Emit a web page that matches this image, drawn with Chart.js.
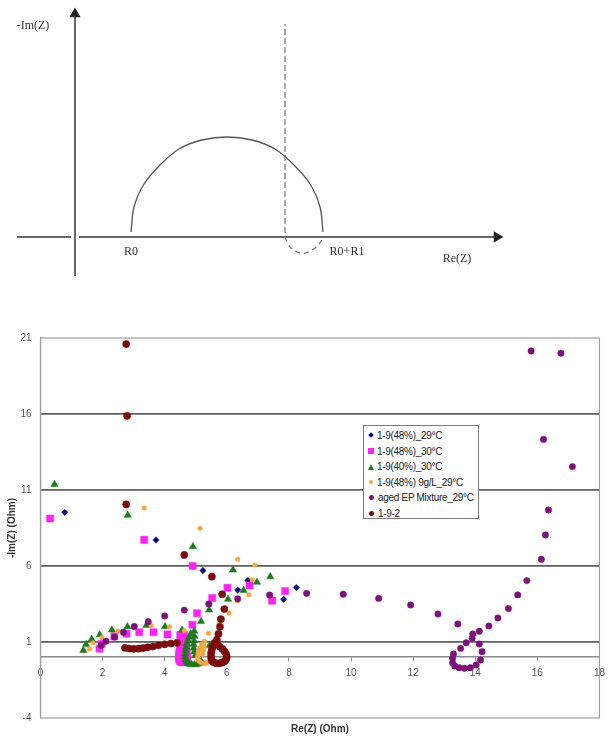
<!DOCTYPE html>
<html>
<head>
<meta charset="utf-8">
<script src="https://cdn.jsdelivr.net/npm/chart.js@4.4.1/dist/chart.umd.min.js"></script>
<style>
  body { margin: 0; background: #fff; width: 611px; height: 745px; overflow: hidden; position: relative; font-family: "Liberation Sans", Arial, sans-serif; }
  #sketchBox { position: absolute; left: 0; top: 0; width: 611px; height: 300px; }
  #nyquistBox { position: absolute; left: 0; top: 300px; width: 611px; height: 445px; }
  #legend { position: absolute; left: 363px; top: 425px; width: 116px; height: 94px; border: 1px solid #7a7a7a; background: #fff; box-sizing: border-box; padding-top: 2px; }
  .row { height: 15.6px; line-height: 15.6px; font-size: 10px; color: #222; white-space: nowrap; padding-left: 4px; letter-spacing: -0.3px; }
  .mk { display: inline-block; vertical-align: middle; margin-right: 3px; margin-top: -2px; }
</style>
</head>
<body>
<div id="sketchBox"><canvas id="sketch"></canvas></div>
<div id="nyquistBox"><canvas id="nyquist"></canvas></div>
<div id="legend"></div>
<script>
// ---- schematic (arbitrary units, origin where the axes cross) ----
const arcRe = [5.6, 5.9, 6.9, 8.5, 10.4, 12.7, 15.2, 17.7, 20.0, 21.9, 23.5, 24.5, 24.8];
const arcIm = [0.5, 3.0, 5.3, 7.2, 8.8, 9.7, 10.0, 9.7, 8.8, 7.2, 5.3, 3.0, 0.5];
const inductRe = [21.0, 21.5, 22.7, 24.0, 24.8];
const inductIm = [0.0, -1.0, -1.65, -1.1, -0.2];
const cutRe = [21.0, 21.0];
const cutIm = [0.4, 21.3];
const imAxisRe = [0, 0];
const imAxisIm = [-3.9, 22.3];
const reAxisLeftRe = [-5.8, -0.4];
const reAxisRightRe = [0.4, 42.2];
const sketchLabels = ['-Im(Z)', 'R0', 'R0+R1', 'Re(Z)'];
const sketchLabelRe = [-4.2, 5.6, 27.2, 38.2];
const sketchLabelIm = [21.1, -1.45, -1.45, -2.2];

// ---- impedance data ----
const xTicks = [0, 2, 4, 6, 8, 10, 12, 14, 16, 18];
const yTicks = [-4, 1, 6, 11, 16, 21];
const seriesNames = ['1-9(48%)_29°C', '1-9(48%)_30°C', '1-9(40%)_30°C', '1-9(48%) 9g/L_29°C', 'aged EP Mixture_29°C', '1-9-2'];

const s1x = [0.78, 3.72, 5.23, 6.68, 6.35, 7.83, 8.24];
const s1y = [9.53, 7.71, 5.70, 5.05, 4.42, 3.81, 4.58];

const s2x = [0.31, 3.34, 4.90, 6.73, 7.88, 7.46, 6.02, 5.53, 5.04, 4.89,
             1.90, 1.97, 2.38, 2.77, 3.18, 3.64, 4.09, 4.50,
             4.62, 4.58, 4.54, 4.51, 4.49, 4.47, 4.46, 4.46, 4.47, 4.49, 4.53, 4.58, 4.63, 4.68,
             4.71, 4.72, 4.71, 4.69, 4.68, 4.69];
const s2y = [9.12, 7.72, 6.00, 4.72, 4.36, 3.72, 4.57, 3.90, 2.89, 2.14,
             0.56, 0.89, 1.37, 1.54, 1.64, 1.64, 1.50, 1.45,
             1.45, 1.22, 1.00, 0.78, 0.56, 0.34, 0.14, -0.04, -0.17, -0.26, -0.31, -0.33, -0.32, -0.26,
             -0.14, 0.02, 0.20, 0.40, 0.62, 0.86];

const s3x = [0.45, 2.81, 4.91, 6.20, 7.40, 6.97, 6.54, 6.04, 5.43, 5.17, 4.95,
             1.38, 1.47, 1.65, 1.91, 2.30, 2.80, 3.41, 4.01, 4.56, 5.44,
             4.84, 4.79, 4.75, 4.71, 4.69, 4.67, 4.66, 4.66, 4.67, 4.70, 4.74, 4.80, 4.87, 4.95, 5.03, 5.10, 5.15, 5.18,
             4.98, 4.95, 4.93, 4.93, 4.94, 4.96];
const s3y = [11.37, 9.34, 7.28, 5.74, 5.30, 4.93, 4.40, 3.82, 3.11, 2.35, 1.72,
             0.45, 0.84, 1.18, 1.48, 1.79, 2.01, 2.10, 2.01, 1.79, 0.76,
             1.55, 1.32, 1.10, 0.88, 0.66, 0.44, 0.22, 0.02, -0.16, -0.30, -0.40, -0.45, -0.48, -0.49, -0.47, -0.43, -0.37, -0.28,
             0.10, 0.35, 0.60, 0.85, 1.10, 1.38];

const s4x = [3.34, 5.14, 6.35, 6.90, 6.82, 6.71, 6.35, 6.07, 5.75, 5.41,
             1.58, 1.69, 1.97, 2.50, 3.00, 3.56, 4.15, 4.63,
             5.28, 5.20, 5.14, 5.10, 5.07, 5.06, 5.07, 5.11, 5.17, 5.25, 5.33, 5.38, 5.22, 5.24, 5.28];
const s4y = [9.82, 8.48, 6.44, 6.07, 5.10, 4.11, 3.70, 2.91, 2.20, 1.57,
             0.55, 0.95, 1.30, 1.72, 1.95, 2.07, 2.00, 1.75,
             1.05, 0.85, 0.65, 0.45, 0.25, 0.05, -0.13, -0.27, -0.37, -0.41, -0.40, -0.33, 0.20, 0.45, 0.70];

const s5x = [15.80, 16.76, 16.20, 17.13, 16.36, 16.26, 16.13, 15.66, 15.37, 15.07, 14.73, 14.44, 14.13, 13.92,
             13.90, 13.71, 13.53, 13.30, 13.27, 13.27, 13.34, 13.48, 13.65, 13.84, 14.03, 14.17, 14.22, 14.13,
             13.44, 12.80, 11.92, 10.89, 9.75, 8.57, 7.38, 6.35, 5.42, 4.63, 4.00, 3.47, 3.02, 2.67, 2.38, 2.11, 1.95];
const s5y = [20.14, 20.00, 14.33, 12.54, 9.68, 8.04, 6.44, 5.04, 4.10, 3.20, 2.58, 2.05, 1.71, 1.53,
             1.24, 0.95, 0.58, 0.21, -0.07, -0.36, -0.58, -0.69, -0.73, -0.69, -0.51, -0.18, 0.36, 0.87,
             2.18, 2.84, 3.43, 3.87, 4.14, 4.20, 4.09, 3.84, 3.50, 3.10, 2.71, 2.34, 2.02, 1.64, 1.32, 1.05, 0.77];

const s6x = [2.76, 2.79, 2.76, 4.63, 5.52, 5.85, 5.92, 5.81, 5.78, 5.73, 5.68,
             2.72, 2.85, 3.00, 3.15, 3.30, 3.45, 3.62, 3.80, 4.00, 4.20, 4.40,
             5.60, 5.55, 5.52, 5.50, 5.49, 5.50, 5.52, 5.57, 5.65, 5.75, 5.85, 5.93, 5.98, 6.00, 5.98, 5.93, 5.86, 5.78, 5.70];
const s6y = [20.60, 15.88, 10.05, 6.73, 5.30, 4.14, 3.17, 2.50, 2.00, 1.53, 1.15,
             0.62, 0.57, 0.55, 0.56, 0.60, 0.65, 0.70, 0.78, 0.85, 0.90, 0.95,
             0.92, 0.72, 0.52, 0.32, 0.12, -0.08, -0.24, -0.34, -0.39, -0.40, -0.36, -0.27, -0.14, 0.02, 0.20, 0.38, 0.54, 0.68, 0.82];

// ---- styles ----
const seriesColors = ['#0a0a78', '#ff22f0', '#1d7a1d', '#f4a640', '#7a127a', '#7c0c0c'];
const seriesShapes = ['rectRot', 'rect', 'triangle', 'circle', 'circle', 'circle'];
const seriesRadius = [3.2, 5, 4.2, 2.3, 3.2, 3.6];

function zip(xs, ys) {
    return xs.map((x, i) => ({ x: x, y: ys[i] }));
}

// ---------- schematic chart ----------
const sketchLabelPlugin = {
    id: 'sketchLabels',
    afterDatasetsDraw(chart) {
        const ctx = chart.ctx;
        ctx.save();
        ctx.fillStyle = '#333';
        ctx.font = '12px "Liberation Serif", "DejaVu Serif", serif';
        ctx.textAlign = 'center';
        ctx.textBaseline = 'middle';
        sketchLabels.forEach((txt, i) => {
            ctx.fillText(txt, chart.scales.x.getPixelForValue(sketchLabelRe[i]), chart.scales.y.getPixelForValue(sketchLabelIm[i]));
        });
        ctx.restore();
    }
};

function sketchLine(xs, ys, opts) {
    return Object.assign({
        data: zip(xs, ys),
        showLine: true,
        borderColor: '#666',
        borderWidth: 2,
        pointRadius: 0,
        fill: false
    }, opts);
}

new Chart(document.getElementById('sketch'), {
    type: 'scatter',
    data: {
        datasets: [
            sketchLine(arcRe, arcIm, { borderColor: '#555', borderWidth: 1.3, tension: 0.33 }),
            sketchLine(inductRe, inductIm, { borderColor: '#777', borderWidth: 1.3, tension: 0.33, borderDash: [5, 4] }),
            sketchLine(cutRe, cutIm, { borderColor: '#888', borderWidth: 1.4, borderDash: [6, 3] }),
            sketchLine(imAxisRe, imAxisIm, { pointRadius: [0, 4.5], pointStyle: 'triangle', pointBackgroundColor: '#222', pointBorderColor: '#222' }),
            sketchLine(reAxisLeftRe, [0, 0], {}),
            sketchLine(reAxisRightRe, [0, 0], { pointRadius: [0, 4.5], pointStyle: 'triangle', pointRotation: 90, pointBackgroundColor: '#222', pointBorderColor: '#222' })
        ]
    },
    options: {
        responsive: true,
        maintainAspectRatio: false,
        animation: false,
        layout: { padding: 0, autoPadding: false },
        plugins: { legend: { display: false }, tooltip: { enabled: false } },
        scales: {
            x: { type: 'linear', min: -7.5, max: 53.6, display: false },
            y: { type: 'linear', min: -6.3, max: 23.7, display: false }
        }
    },
    plugins: [sketchLabelPlugin]
});

// ---------- Nyquist chart ----------
const plotFrame = {
    id: 'plotFrame',
    beforeDatasetsDraw(chart) {
        const a = chart.chartArea;
        const ctx = chart.ctx;
        ctx.save();
        ctx.strokeStyle = '#a0a0a0';
        ctx.lineWidth = 1.2;
        ctx.strokeRect(a.left, a.top, a.right - a.left, a.bottom - a.top);
        ctx.restore();
    }
};

const seriesX = [s1x, s2x, s3x, s4x, s5x, s6x];
const seriesY = [s1y, s2y, s3y, s4y, s5y, s6y];
const tickFont = { family: '"Liberation Sans", Arial, sans-serif', size: 10 };

new Chart(document.getElementById('nyquist'), {
    type: 'scatter',
    data: {
        // later series drawn on top, as in the spreadsheet original
        datasets: seriesNames.map((name, i) => ({
            label: name,
            data: zip(seriesX[i], seriesY[i]),
            order: seriesNames.length - i,
            xAxisID: 'x',
            yAxisID: 'y',
            pointStyle: seriesShapes[i],
            pointRadius: seriesRadius[i],
            backgroundColor: seriesColors[i],
            borderColor: seriesColors[i],
            borderWidth: 0.5
        }))
    },
    options: {
        responsive: true,
        maintainAspectRatio: false,
        animation: false,
        layout: { padding: { left: 0, right: 6.5, top: 38, bottom: 0 } },
        plugins: { legend: { display: false }, tooltip: { enabled: false } },
        scales: {
            x: {
                type: 'linear', position: 'bottom', min: 0, max: 18,
                ticks: { display: false },
                grid: { display: false },
                border: { display: false },
                afterFit: s => { s.height = 27; },
                title: { display: true, text: 'Re(Z) (Ohm)', color: '#333', padding: { top: 0, bottom: 10 },
                         font: { family: '"Liberation Sans", Arial, sans-serif', size: 10, weight: 'bold' } }
            },
            xz: {
                type: 'linear', axis: 'x', position: { y: 0 }, min: 0, max: 18,
                afterBuildTicks: s => { s.ticks = xTicks.map(v => ({ value: v })); },
                grid: { drawOnChartArea: false, drawTicks: true, tickLength: 4, color: '#8c8c8c', lineWidth: 1 },
                border: { color: '#8c8c8c', width: 1.5 },
                ticks: { padding: 6, color: '#555', font: tickFont }
            },
            y: {
                type: 'linear', position: 'left', min: -4, max: 21,
                afterBuildTicks: s => { s.ticks = yTicks.map(v => ({ value: v })); },
                afterFit: s => { s.width = 40.5; },
                grid: {
                    drawTicks: false,
                    lineWidth: 1.8,
                    color: c => (c.tick && (c.tick.value === -4 || c.tick.value === 21)) ? 'rgba(0,0,0,0)' : '#5e5e5e'
                },
                border: { display: true, color: '#8c8c8c', width: 1.2 },
                ticks: { padding: 9, color: '#555', font: tickFont },
                title: { display: true, text: '-Im(Z) (Ohm)', color: '#333', padding: { top: 6, bottom: 0 },
                         font: { family: '"Liberation Sans", Arial, sans-serif', size: 10, weight: 'bold' } }
            }
        }
    },
    plugins: [plotFrame]
});

// ---------- legend ----------
const legend = document.getElementById('legend');
seriesNames.forEach((name, i) => {
    const row = document.createElement('div');
    row.className = 'row';
    const mk = document.createElement('span');
    mk.className = 'mk';
    const c = seriesColors[i];
    if (seriesShapes[i] === 'rectRot') {
        mk.style.cssText = 'width:4px;height:4px;background:' + c + ';transform:rotate(45deg);margin-left:1px;margin-right:4px;';
    } else if (seriesShapes[i] === 'rect') {
        mk.style.cssText = 'width:6px;height:6px;background:' + c + ';';
    } else if (seriesShapes[i] === 'triangle') {
        mk.style.cssText = 'width:0;height:0;border-left:3.5px solid transparent;border-right:3.5px solid transparent;border-bottom:6px solid ' + c + ';';
    } else {
        const d = i === 3 ? 4 : 5;
        mk.style.cssText = 'width:' + d + 'px;height:' + d + 'px;border-radius:50%;background:' + c + ';margin-left:1px;margin-right:4px;';
    }
    row.appendChild(mk);
    row.appendChild(document.createTextNode(name));
    legend.appendChild(row);
});
</script>
</body>
</html>
